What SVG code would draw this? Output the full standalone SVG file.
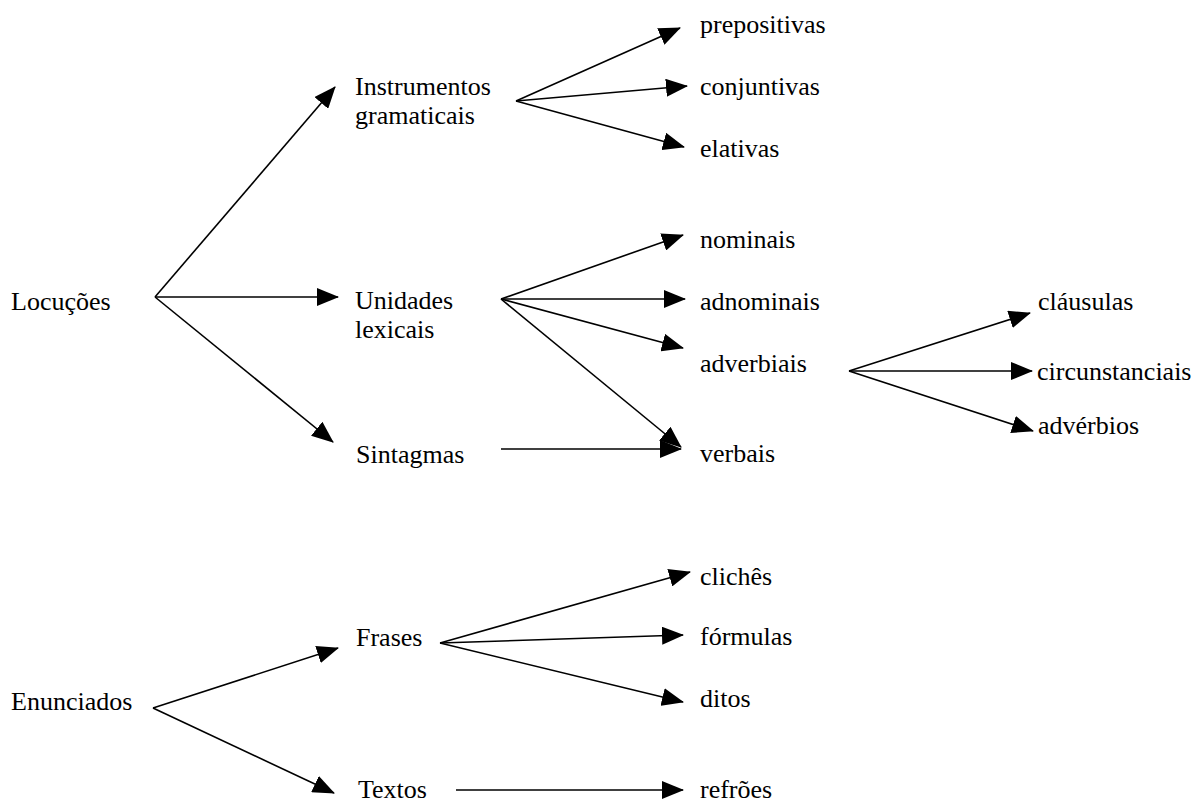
<svg xmlns="http://www.w3.org/2000/svg" width="1203" height="802" viewBox="0 0 1203 802">
<style>
text{font-family:"Liberation Serif","Times New Roman",serif;font-size:26px;fill:#000}
.c line{stroke:#000;stroke-width:1.6;marker-end:url(#ah)}
</style>
<defs>
<marker id="ah" viewBox="0 0 22 18" refX="21" refY="9" markerWidth="22" markerHeight="18" markerUnits="userSpaceOnUse" orient="auto">
<path d="M0,0 L22,9 L0,18 z" fill="#000"/>
</marker>
</defs>
<rect width="1203" height="802" fill="#fff"/>
<g class="c" id="connectors">
<line x1="155" y1="297" x2="335" y2="87"/>
<line x1="155" y1="297" x2="338" y2="297"/>
<line x1="155" y1="297" x2="333" y2="442"/>
<line x1="516" y1="101" x2="680" y2="28"/>
<line x1="516" y1="101" x2="687" y2="86"/>
<line x1="516" y1="101" x2="684" y2="147"/>
<line x1="501" y1="299" x2="683" y2="235"/>
<line x1="501" y1="299" x2="685" y2="299"/>
<line x1="501" y1="299" x2="683" y2="348"/>
<line x1="501" y1="299" x2="681" y2="447"/>
<line x1="501" y1="449" x2="681" y2="449"/>
<line x1="849" y1="371" x2="1030" y2="313"/>
<line x1="849" y1="371" x2="1032" y2="371"/>
<line x1="849" y1="371" x2="1033" y2="431"/>
<line x1="153" y1="708" x2="338" y2="648"/>
<line x1="153" y1="708" x2="334" y2="793"/>
<line x1="440" y1="643" x2="690" y2="572"/>
<line x1="440" y1="643" x2="683" y2="635"/>
<line x1="440" y1="643" x2="683" y2="702"/>
<line x1="456" y1="790" x2="683" y2="790"/>
</g>
<g id="locucoes"><text x="11" y="310">Locuções</text></g>
<g id="instrumentos"><text x="355" y="95">Instrumentos</text><text x="355" y="124">gramaticais</text></g>
<g id="unidades"><text x="355" y="309">Unidades</text><text x="355" y="338">lexicais</text></g>
<g id="sintagmas"><text x="356" y="463">Sintagmas</text></g>
<g id="prepositivas"><text x="700" y="33">prepositivas</text></g>
<g id="conjuntivas"><text x="700" y="95">conjuntivas</text></g>
<g id="elativas"><text x="700" y="157">elativas</text></g>
<g id="nominais"><text x="700" y="248">nominais</text></g>
<g id="adnominais"><text x="700" y="310">adnominais</text></g>
<g id="adverbiais"><text x="700" y="372">adverbiais</text></g>
<g id="verbais"><text x="700" y="462">verbais</text></g>
<g id="clausulas"><text x="1038" y="310">cláusulas</text></g>
<g id="circunstanciais"><text x="1037" y="380">circunstanciais</text></g>
<g id="adverbios"><text x="1038" y="434">advérbios</text></g>
<g id="enunciados"><text x="11" y="710">Enunciados</text></g>
<g id="frases"><text x="356" y="646">Frases</text></g>
<g id="textos"><text x="358" y="798">Textos</text></g>
<g id="cliches"><text x="700" y="585">clichês</text></g>
<g id="formulas"><text x="700" y="645">fórmulas</text></g>
<g id="ditos"><text x="700" y="707">ditos</text></g>
<g id="refroes"><text x="700" y="798">refrões</text></g>
</svg>
